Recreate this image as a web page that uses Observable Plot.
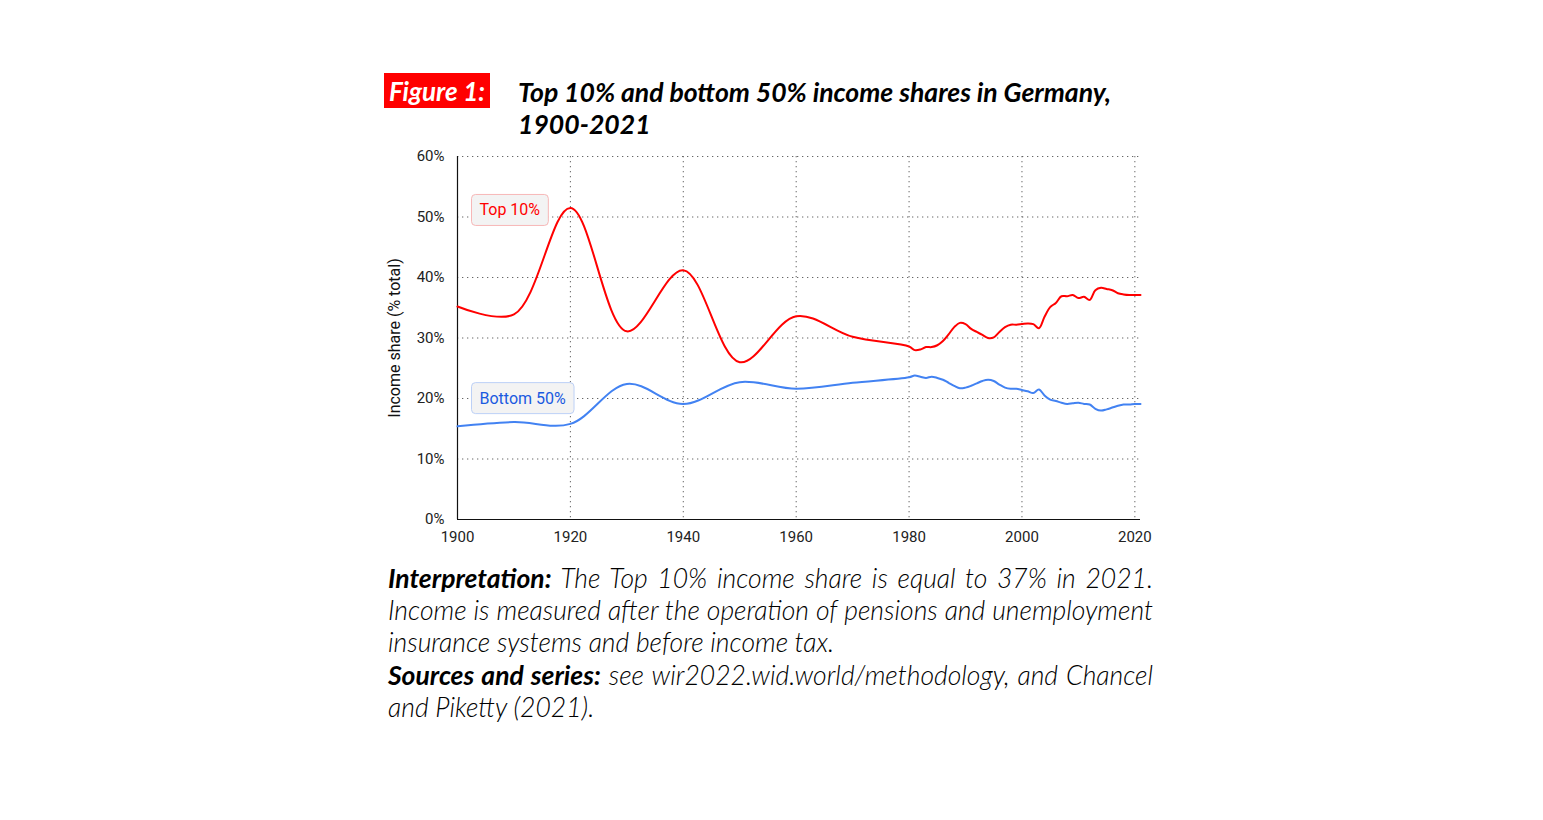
<!DOCTYPE html>
<html>
<head>
<meta charset="utf-8">
<script src="https://cdn.jsdelivr.net/npm/d3@7"></script>
<script src="https://cdn.jsdelivr.net/npm/@observablehq/plot@0.6"></script>
<style>
  html, body { margin: 0; padding: 0; background: #fff; }
  body { width: 1543px; height: 820px; position: relative; overflow: hidden; }
  #fig { position: absolute; left: 384px; top: 73px; height: 35px; width: 106px; background: #ff0000;
         color: #fff; font-family: Lato, sans-serif; font-weight: 700; font-style: italic; font-size: 26px;
         line-height: 36px; text-align: center; }
  #title { position: absolute; left: 518px; top: 76px; font-family: Lato, sans-serif; font-weight: 700;
           font-style: italic; font-size: 26.6px; line-height: 32px; color: #000; width: 620px; }
  #chart { position: absolute; left: 380px; top: 146px; }
  #caption { position: absolute; left: 388px; top: 562px; width: 765px; font-family: Lato, sans-serif;
             font-style: italic; font-weight: 300; font-size: 26.5px; line-height: 32.2px; color: #000; }
  #caption div { white-space: nowrap; text-align: left; }
  #caption div.j { text-align: justify; text-align-last: justify; }
  #caption b { font-weight: 700; }
</style>
</head>
<body>
<div id="fig">Figure 1:</div>
<div id="title">Top 10% and bottom 50% income shares in Germany,<br>1900-2021</div>
<div id="chart"></div>
<div id="caption">
  <div class="j"><b>Interpretation:</b> The Top 10% income share is equal to 37% in 2021.</div>
  <div class="j">Income is measured after the operation of pensions and unemployment</div>
  <div>insurance systems and before income tax.</div>
  <div class="j"><b>Sources and series:</b> see wir2022.wid.world/methodology, and Chancel</div>
  <div>and Piketty (2021).</div>
</div>
<script>
// ---- data (income shares, %) ----
const years = [1900, 1910, 1920, 1930, 1940, 1950, 1960, 1970,
  1980, 1981, 1982, 1983, 1984, 1985, 1986, 1987, 1988, 1989,
  1990, 1991, 1992, 1993, 1994, 1995, 1996, 1997, 1998, 1999,
  2000, 2001, 2002, 2003, 2004, 2005, 2006, 2007, 2008, 2009,
  2010, 2011, 2012, 2013, 2014, 2015, 2016, 2017, 2018, 2019,
  2020, 2021];
const top10 = [35.2, 33.9, 51.5, 31.1, 41.2, 26.0, 33.6, 30.2,
  28.6, 28.0, 28.1, 28.5, 28.5, 28.8, 29.5, 30.6, 31.8, 32.5,
  32.3, 31.5, 31.0, 30.5, 30.0, 30.1, 31.0, 31.8, 32.2, 32.2,
  32.3, 32.4, 32.3, 31.6, 33.5, 35.1, 35.8, 36.9, 36.9, 37.1,
  36.6, 36.8, 36.3, 37.9, 38.3, 38.1, 37.9, 37.4, 37.2, 37.1,
  37.1, 37.1];
const bottom50 = [15.4, 16.1, 15.8, 22.4, 19.1, 22.7, 21.6, 22.6,
  23.5, 23.8, 23.6, 23.4, 23.6, 23.4, 23.1, 22.6, 22.1, 21.7,
  21.8, 22.1, 22.5, 22.9, 23.1, 22.9, 22.3, 21.8, 21.6, 21.6,
  21.4, 21.2, 20.9, 21.5, 20.5, 19.8, 19.6, 19.3, 19.1, 19.2,
  19.3, 19.1, 19.0, 18.3, 18.0, 18.2, 18.5, 18.8, 19.0, 19.0,
  19.1, 19.1];
const yTicks = [0, 10, 20, 30, 40, 50, 60];
const xTicks = [1900, 1920, 1940, 1960, 1980, 2000, 2020];
const labelNames = ["Top 10%", "Bottom 50%"];
const labelYears = [1903.9, 1903.9];
const labelValues = [51.1, 20.0];
const seriesColors = ["#ff0000", "#4282f2"];
const labelText = ["#ff0000", "#1a5ae0"];
const labelStroke = ["#f7b7b7", "#bcd0f6"];

const rows = [];
years.forEach((y, i) => {
  rows.push({year: y, value: top10[i], series: labelNames[0]});
  rows.push({year: y, value: bottom50[i], series: labelNames[1]});
});
const labels = labelNames.map((n, i) => ({name: n, year: labelYears[i], value: labelValues[i], i}));

const font = "Roboto, 'Open Sans', sans-serif";
const chart = Plot.plot({
  width: 780,
  height: 403,
  marginLeft: 77,
  marginRight: 20,
  marginTop: 10,
  marginBottom: 30,
  style: {fontFamily: font, fontSize: "15px", color: "#222", background: "transparent", overflow: "visible"},
  x: {domain: [1900, 2021]},
  y: {domain: [0, 60]},
  color: {domain: labelNames, range: seriesColors},
  marks: [
    Plot.gridY(yTicks.filter(d => d > 0), {stroke: "#555", strokeOpacity: 0.9, strokeDasharray: "1.3,3.7"}),
    Plot.gridX(xTicks.filter(d => d > 1900), {stroke: "#555", strokeOpacity: 0.9, strokeDasharray: "1.3,3.7"}),
    Plot.axisY(yTicks, {tickSize: 0, tickPadding: 13, tickFormat: d => d + "%", fontSize: 15, fill: "#222", label: null}),
    Plot.axisY([], {tickSize: 0, fontSize: 16, fill: "#111",
      label: "Income share (% total)", labelAnchor: "center", labelArrow: "none", labelOffset: 69}),
    Plot.axisX(xTicks, {tickSize: 0, tickPadding: 12, tickFormat: d => String(d), fontSize: 15, fill: "#222", label: null}),
    Plot.ruleY([0], {stroke: "#111", strokeWidth: 1.2}),
    Plot.ruleX([1900], {stroke: "#111", strokeWidth: 1.2}),
    Plot.line(rows, {x: "year", y: "value", z: "series", stroke: "series", strokeWidth: 2, curve: "catmull-rom"}),
    Plot.text(labels, {x: "year", y: "value", text: "name", textAnchor: "start", fontSize: 16,
      fill: d => labelText[d.i], className: "serieslabel"})
  ]
});
document.getElementById("chart").appendChild(chart);

// background boxes behind the series labels
d3.select(chart).selectAll(".serieslabel text").each(function(d, k) {
  const b = this.getBBox();
  const padX = 8, padY = 7;
  const g = this.parentNode;
  const rect = d3.select(g).insert("rect", () => this)
    .attr("x", b.x - padX).attr("y", b.y - padY + 1)
    .attr("width", b.width + 2 * padX).attr("height", b.height + 2 * padY - 2)
    .attr("rx", 4).attr("fill", "#f3f3f3").attr("stroke", labelStroke[k]).attr("stroke-width", 1);
  const t = this.getAttribute("transform");
  if (t) rect.attr("transform", t);
});
</script>
</body>
</html>
